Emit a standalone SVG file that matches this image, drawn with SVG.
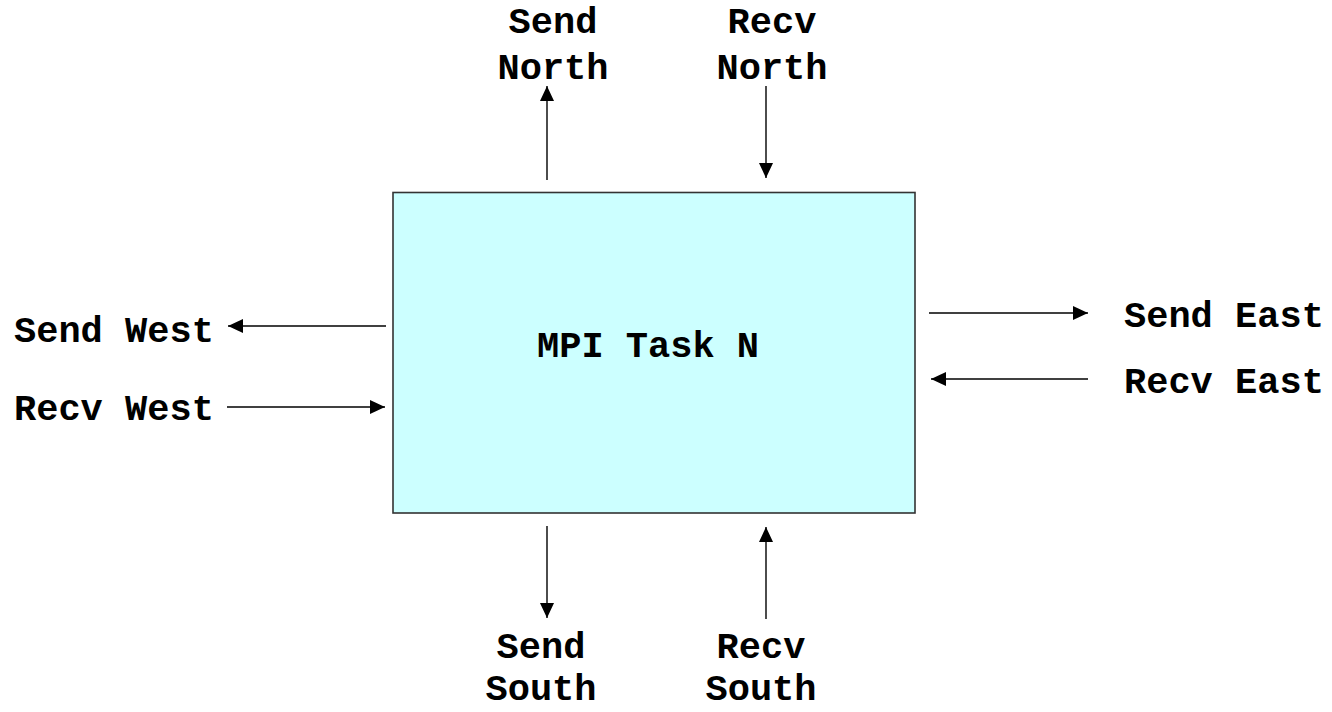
<svg xmlns="http://www.w3.org/2000/svg" width="1332" height="712" viewBox="0 0 1332 712">
  <style>
    .lbl { font-family: "Liberation Mono", "Courier New", monospace; font-weight: bold; font-size: 37px; fill: #000; }
    .mid { text-anchor: middle; }
    .conn { stroke: #000; stroke-width: 1.4; fill: none; marker-end: url(#head); }
    .task { fill: #CCFFFF; stroke: #333; stroke-width: 1.6; }
  </style>
  <defs>
    <marker id="head" markerUnits="userSpaceOnUse" markerWidth="17" markerHeight="15" refX="15" refY="7" orient="auto">
      <path d="M0,0 L15,7 L0,14 z" fill="#000"/>
    </marker>
  </defs>
  <rect width="1332" height="712" fill="#fff"/>

  <!-- the task box -->
  <g id="task">
    <rect class="task" x="393" y="192.5" width="522" height="320.5"/>
    <text class="lbl mid" x="648" y="357">MPI Task N</text>
  </g>

  <!-- port labels -->
  <g id="send-north"><text class="lbl mid" x="553" y="33">Send</text><text class="lbl mid" x="553" y="79">North</text></g>
  <g id="recv-north"><text class="lbl mid" x="772" y="33">Recv</text><text class="lbl mid" x="772" y="79">North</text></g>
  <g id="send-south"><text class="lbl mid" x="541" y="658">Send</text><text class="lbl mid" x="541" y="700">South</text></g>
  <g id="recv-south"><text class="lbl mid" x="761" y="658">Recv</text><text class="lbl mid" x="761" y="700">South</text></g>
  <g id="send-west"><text class="lbl" x="14" y="342">Send West</text></g>
  <g id="recv-west"><text class="lbl" x="14" y="420">Recv West</text></g>
  <g id="send-east"><text class="lbl" x="1124" y="327">Send East</text></g>
  <g id="recv-east"><text class="lbl" x="1124" y="393">Recv East</text></g>

  <!-- message arrows -->
  <g id="connectors">
    <line class="conn" x1="547" y1="180" x2="547" y2="86"/>
    <line class="conn" x1="766" y1="86" x2="766" y2="178"/>
    <line class="conn" x1="547" y1="526" x2="547" y2="618"/>
    <line class="conn" x1="766" y1="619" x2="766" y2="527"/>
    <line class="conn" x1="386" y1="326" x2="228" y2="326"/>
    <line class="conn" x1="227" y1="407" x2="385" y2="407"/>
    <line class="conn" x1="929" y1="313" x2="1088" y2="313"/>
    <line class="conn" x1="1088" y1="379" x2="931" y2="379"/>
  </g>
</svg>
